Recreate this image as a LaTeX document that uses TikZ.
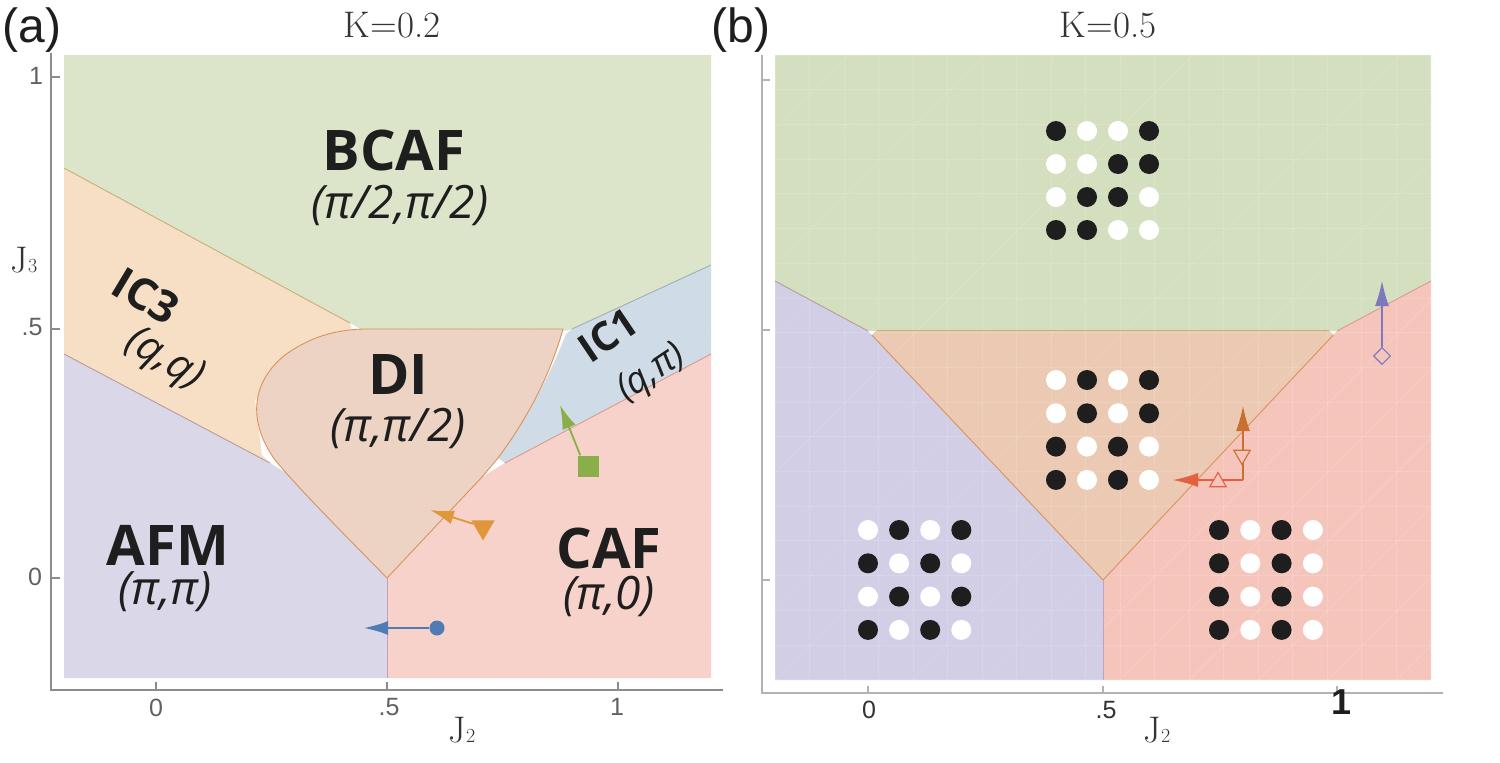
\documentclass[tikz,border=0pt]{standalone}
\usepackage{fontspec}
\newfontfamily\osans{Open Sans}
\newfontfamily\hsans{Liberation Sans}
\usetikzlibrary{arrows.meta,shapes.geometric}
\definecolor{gA}{HTML}{DCE5C9}
\definecolor{oA}{HTML}{F6DFC4}
\definecolor{dA}{HTML}{EDD3C3}
\definecolor{bA}{HTML}{CFDBE6}
\definecolor{cA}{HTML}{F7D2CA}
\definecolor{aA}{HTML}{D9D7E8}
\definecolor{gB}{HTML}{D3DFBE}
\definecolor{dB}{HTML}{EBC9B2}
\definecolor{aB}{HTML}{D1CEE6}
\definecolor{cB}{HTML}{F5C5BC}
\definecolor{dk}{HTML}{1E1E1E}
\definecolor{wt}{HTML}{FFFFFF}
\definecolor{mblue}{HTML}{4F7CB5}
\definecolor{morange}{HTML}{E0963A}
\definecolor{mgreen}{HTML}{8AAF4A}
\definecolor{mpurple}{HTML}{7D79BE}
\definecolor{mbrown}{HTML}{C8712E}
\definecolor{mred}{HTML}{E4603F}
\definecolor{lIC3}{HTML}{C8AE78}
\definecolor{lDI}{HTML}{D9935A}
\definecolor{lAF}{HTML}{B89C9C}
\definecolor{lIC1}{HTML}{9EB0B4}
\definecolor{lCA}{HTML}{DE9A8E}
\definecolor{lAC}{HTML}{C4A0BC}
\begin{document}
\begin{tikzpicture}[x=1pt,y=-1pt,
  phase/.style={font=\osans\bfseries\fontsize{56}{60}\selectfont,text=dk,inner sep=0},
  phasesm/.style={font=\osans\bfseries\fontsize{44}{48}\selectfont,text=dk,inner sep=0},
  wave/.style={font=\osans\itshape\fontsize{46}{50}\selectfont,text=dk,inner sep=0},
  wavesm/.style={font=\osans\itshape\fontsize{42}{46}\selectfont,text=dk,inner sep=0},
  ticklab/.style={font=\hsans\fontsize{25}{27}\selectfont,text=black!62,inner sep=0},
  axlab/.style={font=\fontsize{37}{40}\selectfont,text=black!80,inner sep=0},
  panlab/.style={font=\hsans\fontsize{48}{52}\selectfont,text=dk,inner sep=0},
  axA/.style={draw=black!45,line width=1.6pt},
  axB/.style={draw=black!30,line width=1.1pt},
  bnd/.style={line width=0.9pt},
  gridl/.style={draw=white,opacity=0.15,line width=0.7pt},
  arr/.style={line width=1.8pt,-{Latex[length=24pt,width=14pt]}},
  arrb/.style={line width=1.2pt,-{Latex[length=25pt,width=14pt]}}
]
\useasboundingbox (0,0) rectangle (1500,763);

% ---------------- panel (a) regions
\fill[gA] (64,55) -- (711,55) -- (711,265) -- (572,329) -- (568,330.5) -- (363,330.5) -- (350,323) -- (64,168) -- cycle;
\fill[oA] (64,168) -- (350,323) -- (352,333) -- (300,345) -- (255,400) -- (262,455) -- (270,463) -- (64,354) -- cycle;
\fill[aA] (64,354) -- (270,463) -- (296,479) -- (387,578) -- (387,678) -- (64,678) -- cycle;
\fill[cA] (387,578) -- (482,477) -- (505,463) -- (711,354) -- (711,678) -- (387,678) -- cycle;
\fill[bA] (572,329) -- (711,265) -- (711,354) -- (505,463) -- (498,458) .. controls (530,415) and (551,372) .. (566,334) -- cycle;
\begin{scope}
\clip (64,55) rectangle (711,678);
\foreach \i in {-12,...,12} \draw[draw=white,opacity=0.12,line width=0.6pt] (64+60*\i,678) -- ++(640,-640);
\end{scope}
\path[fill=dA,draw=lDI,bnd] (363,329) -- (563,329) .. controls (551,372) and (530,415) .. (498,458) -- (482,477) -- (387,578)
  .. controls (340,530) and (300,490) .. (275,460) .. controls (250,425) and (248,385) .. (285,355)
  .. controls (310,337) and (335,330) .. (363,329) -- cycle;
\draw[bnd,lIC3] (64,168) -- (350,323);
\draw[bnd,lAF] (64,354) -- (270,463);
\draw[bnd,lIC1] (572,329) -- (711,265);
\draw[bnd,lCA] (505,463) -- (711,354);
\draw[bnd,lAC] (387,578) -- (387,678);

% axes (a)
\draw[axA] (51,53) -- (51,690) -- (723,690);
\draw[axA] (51,77) -- (60,77) (51,329) -- (60,329) (51,578) -- (60,578);
\draw[axA] (156,690) -- (156,682) (387,690) -- (387,682) (618,690) -- (618,682);
\node[ticklab] (ya1) at (36,76) {1};
\node[ticklab] (ya2) at (32,327) {.5};
\node[ticklab] (ya3) at (35,577) {0};
\node[ticklab] (xa1) at (156,708) {0};
\node[ticklab] (xa2) at (389,707) {.5};
\node[ticklab] (xa3) at (617,707) {1};
\node[axlab,anchor=base] (J2a) at (462,742) {J{\fontsize{20}{22}\selectfont 2}};
\node[axlab,anchor=base] (J3a) at (24,272) {J{\fontsize{20}{22}\selectfont 3}};
\node[panlab] (la) at (32,30) {(a)};
\node[axlab] (ka) at (392,25) {K=0.2};

% labels (a)
\node[phase] (nBCAF) at (394,150) {BCAF};
\node[wave] (wBCAF) at (400,205) {(π/2,π/2)};
\node[phasesm,rotate=-31] (nIC3) at (146,296) {IC3};
\node[wavesm,rotate=-31] (wIC3) at (164,360) {(q,q)};
\node[phase] (nDI) at (398,375) {DI};
\node[wave] (wDI) at (398,428) {(π,π/2)};
\node[phasesm,font=\osans\bfseries\fontsize{40}{44}\selectfont,rotate=34] (nIC1) at (608,335) {IC1};
\node[wavesm,font=\osans\itshape\fontsize{37}{40}\selectfont,rotate=34] (wIC1) at (652,374) {(q,π)};
\node[phase] (nAFM) at (168,545) {AFM};
\node[wave] (wAFM) at (165,592) {(π,π)};
\node[phase] (nCAF) at (609,548) {CAF};
\node[wave] (wCAF) at (609,596) {(π,0)};

% markers (a)
\node[circle,fill=mblue,minimum size=15pt,inner sep=0] (mk1) at (437,628) {};
\coordinate (tp1) at (364,628);
\draw[arr,mblue] (mk1) -- (tp1);
\node[regular polygon,regular polygon sides=3,shape border rotate=180,fill=morange,minimum size=27pt,inner sep=0] (mk2) at (483,527) {};
\coordinate (tp2) at (430,510);
\draw[arr,morange] (mk2) -- (tp2);
\node[rectangle,fill=mgreen,minimum size=21pt,inner sep=0] (mk3) at (588,466) {};
\coordinate (tp3) at (560,405);
\draw[arr,mgreen] ([xshift=3pt]mk3.north west) -- (tp3);

% ---------------- panel (b) regions
\fill[gB] (775,55) -- (1431,55) -- (1431,281) -- (1337,331) -- (868,331) -- (775,281) -- cycle;
\fill[aB] (775,281) -- (868,331) -- (1103,580) -- (1103,680) -- (775,680) -- cycle;
\fill[cB] (1103,580) -- (1337,331) -- (1431,281) -- (1431,680) -- (1103,680) -- cycle;
\fill[dB] (871.8,335) -- (877,330) -- (1329,330) -- (1333.3,335) -- (1103,580) -- cycle;
\begin{scope}
\clip (775,55) rectangle (1431,680);
\foreach \i in {0,...,19} \draw[gridl] (775+34.5*\i,55) -- ++(0,625);
\foreach \i in {0,...,18} \draw[gridl] (775,55+34.7*\i) -- ++(656,0);
\foreach \i in {-10,...,10} \draw[gridl] (775+69*\i,680) -- ++(640,-640);
\end{scope}
\draw[bnd,lAF] (775,281) -- (868,331);
\draw[bnd,lIC3] (877,330) -- (1329,330);
\draw[bnd,lDI] (871.8,335) -- (1103,580) -- (1333.3,335);
\draw[bnd,lCA] (1337,331) -- (1431,281);
\draw[bnd,lAC] (1103,580) -- (1103,680);

% axes (b)
\draw[axB] (762,55) -- (762,693) -- (1443,693);
\draw[axB] (762,80) -- (770,80) (762,330) -- (770,330) (762,580) -- (770,580);
\draw[axB] (868,693) -- (868,686) (1103,693) -- (1103,686) (1337,693) -- (1337,686);
\node[ticklab,text=black!80] (xb1) at (869,710) {0};
\node[ticklab,text=black!80] (xb2) at (1106,710) {.5};
\node[font=\hsans\bfseries\fontsize{36}{40}\selectfont,text=dk,inner sep=0] (xb3) at (1341,702) {1};
\node[axlab,anchor=base] (J2b) at (1157,742) {J{\fontsize{20}{22}\selectfont 2}};
\node[panlab] (lb) at (741,30) {(b)};
\node[axlab] (kb) at (1108,25) {K=0.5};

% dot patterns (b)
\foreach [count=\r from 0] \row in {{dk,wt,wt,dk},{wt,wt,dk,dk},{wt,dk,dk,wt},{dk,dk,wt,wt}}
  \foreach [count=\c from 0] \v in \row
    \fill[\v] (1056+31*\c,131+33*\r) circle[radius=10pt];
\foreach [count=\r from 0] \row in {{wt,dk,wt,dk},{wt,dk,wt,dk},{dk,wt,dk,wt},{dk,wt,dk,wt}}
  \foreach [count=\c from 0] \v in \row
    \fill[\v] (1056+31*\c,380+33.3*\r) circle[radius=10pt];
\foreach [count=\r from 0] \row in {{wt,dk,wt,dk},{dk,wt,dk,wt},{wt,dk,wt,dk},{dk,wt,dk,wt}}
  \foreach [count=\c from 0] \v in \row
    \fill[\v] (868+31.1*\c,530+33.3*\r) circle[radius=10pt];
\foreach [count=\r from 0] \row in {{dk,wt,dk,wt},{dk,wt,dk,wt},{dk,wt,dk,wt},{dk,wt,dk,wt}}
  \foreach [count=\c from 0] \v in \row
    \fill[\v] (1219+31.3*\c,530+33.3*\r) circle[radius=10pt];

% markers (b)
\node[diamond,draw=mpurple,line width=1.1pt,minimum size=17pt,inner sep=0] (mk4) at (1382,356) {};
\coordinate (tp4) at (1382,281);
\draw[arrb,mpurple] (mk4) -- (tp4);
\coordinate (cr) at (1243,480);
\coordinate (tp5) at (1243,406);
\coordinate (tp6) at (1173,480);
\draw[arrb,mbrown] (cr) -- (tp5);
\draw[arrb,mred] (cr) -- (tp6);
\node[regular polygon,regular polygon sides=3,shape border rotate=180,draw=mbrown,fill=cB,line width=1.1pt,minimum size=19pt,inner sep=0] (mk5) at (1242,455) {};
\node[regular polygon,regular polygon sides=3,draw=mred,fill=cB,line width=1.1pt,minimum size=19pt,inner sep=0] (mk6) at (1218,482) {};
\end{tikzpicture}
\end{document}
